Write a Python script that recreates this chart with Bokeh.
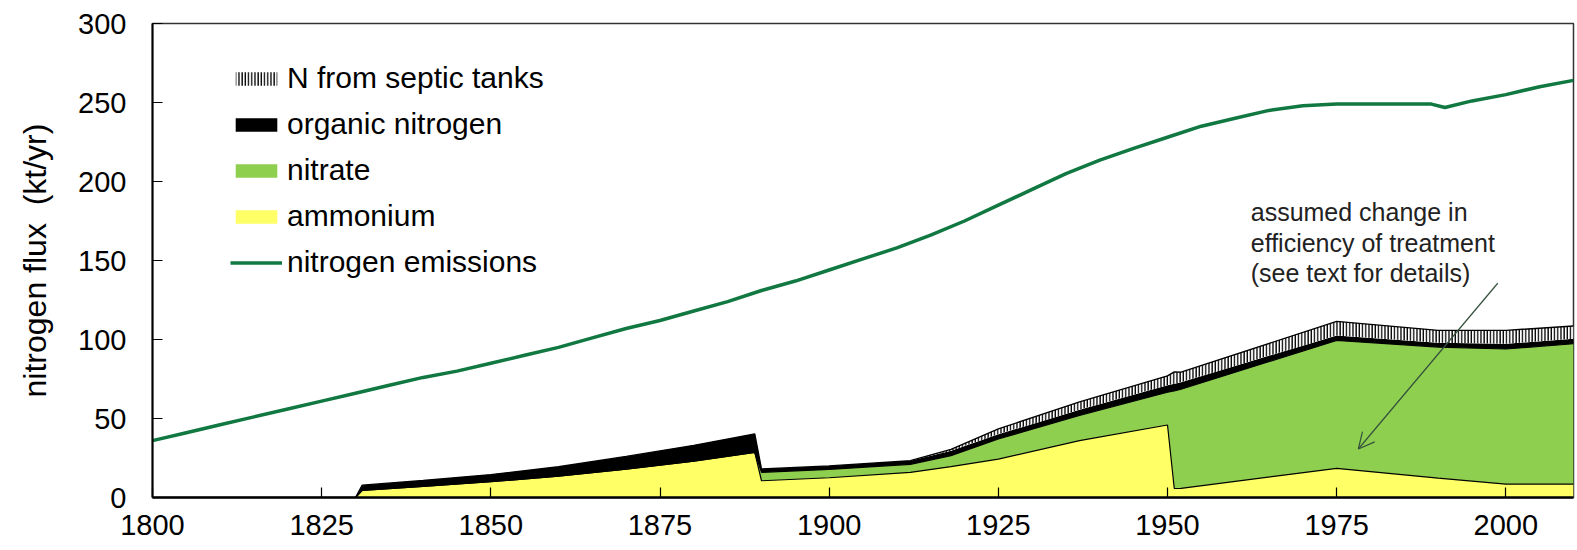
import numpy as np
from bokeh.plotting import figure
from bokeh.models import (ColumnDataSource, FixedTicker, Legend, LegendItem,
                          Arrow, OpenHead, Label, Range1d)
from bokeh.embed import file_html
from bokeh.resources import INLINE

# ---------------- data ----------------
stack_years = [1830, 1831, 1840, 1850, 1860, 1870, 1880, 1889, 1890, 1900, 1912,
               1918, 1925, 1937, 1950, 1951, 1952, 1975, 1990, 2000, 2010]
ammonium = [0, 4.5, 7, 10, 13.5, 18, 23, 28.6, 10.6, 12.5, 15.9,
            19.5, 24.3, 36, 45.9, 5.7, 5.8, 18.4, 12.3, 8.5, 8.5]
nitrate = [0, 0, 0, 0, 0, 0, 0, 0, 5.3, 5.3, 5.1,
           7, 12.7, 16, 20.7, 61.8, 62.7, 81, 82.9, 85.5, 88.8]
organic_n = [0, 3.3, 3.8, 4.5, 6, 8, 10, 11.6, 2.1, 2.2, 2.3,
             3.1, 3, 3.5, 4.4, 4.5, 4.5, 3.2, 2.8, 3.3, 3.2]
septic = [0, 0, 0, 0, 0, 0, 0, 0, 0, 0, 0,
          0.9, 3.4, 5, 6, 7.5, 6.3, 8.9, 7.8, 8.5, 8]

emis_years = [1800, 1805, 1810, 1815, 1820, 1825, 1830, 1835, 1840, 1845, 1850,
              1855, 1860, 1865, 1870, 1875, 1880, 1885, 1890, 1895, 1900, 1905,
              1910, 1915, 1920, 1925, 1930, 1935, 1940, 1945, 1950, 1955, 1960,
              1965, 1970, 1975, 1980, 1985, 1989, 1991, 1995, 2000, 2005, 2010]
emissions = [36, 41, 46, 51, 56, 61, 66, 71, 76, 80, 85,
             90, 95, 101, 107, 112, 118, 124, 131, 137, 144, 151,
             158, 166, 175, 185, 195, 205, 213.5, 221, 228, 235, 240,
             245, 248, 249, 249, 249, 249, 246.8, 251, 255, 260, 264]

x_ticks = [1800, 1825, 1850, 1875, 1900, 1925, 1950, 1975, 2000]
y_ticks = [0, 50, 100, 150, 200, 250, 300]

legend_labels = ["N from septic tanks", "organic nitrogen", "nitrate",
                 "ammonium", "nitrogen emissions"]
note_lines = ["assumed change in", "efficiency of treatment",
              "(see text for details)"]

# ---------------- styling ----------------
YELLOW = "#FFFF66"
GREEN = "#8FCF50"
EMIS = "#107840"
FONT = "Liberation Sans"

a = np.array(ammonium, dtype=float)
g = a + np.array(nitrate, dtype=float)
b = g + np.array(organic_n, dtype=float)
s = b + np.array(septic, dtype=float)
src = ColumnDataSource(dict(x=stack_years, zero=np.zeros(len(a)), a=a, g=g, b=b, s=s))

p = figure(width=1577, height=550, x_range=Range1d(1800, 2010), y_range=Range1d(0, 300),
           output_backend="svg", toolbar_location=None,
           min_border_left=152, min_border_right=4, min_border_top=23, min_border_bottom=53)
p.background_fill_color = "white"
p.border_fill_color = "white"
p.outline_line_color = "#333333"
p.outline_line_width = 1.5
p.xgrid.visible = False
p.ygrid.visible = False

r_amm = p.varea(x="x", y1="zero", y2="a", source=src, fill_color=YELLOW)
r_nit = p.varea(x="x", y1="a", y2="g", source=src, fill_color=GREEN)
r_org = p.varea(x="x", y1="g", y2="b", source=src, fill_color="black")
r_sep = p.varea(x="x", y1="b", y2="s", source=src, fill_color="white",
                hatch_pattern="vertical_line", hatch_color="black", hatch_scale=3.2, hatch_weight=1.4)
p.line(x="x", y="a", source=src, line_color="black", line_width=1.2)
p.line(x="x", y="g", source=src, line_color="black", line_width=1.2)
p.line(x="x", y="s", source=src, line_color="black", line_width=1.4)

r_em = p.line(emis_years, emissions, line_color=EMIS, line_width=3.5)

legend = Legend(items=[LegendItem(label=legend_labels[0], renderers=[r_sep]),
                       LegendItem(label=legend_labels[1], renderers=[r_org]),
                       LegendItem(label=legend_labels[2], renderers=[r_nit]),
                       LegendItem(label=legend_labels[3], renderers=[r_amm]),
                       LegendItem(label=legend_labels[4], renderers=[r_em])],
                location=(78, 218))
legend.label_text_font = FONT
legend.label_text_font_size = "30px"
legend.label_text_color = "black"
legend.glyph_width = 52
legend.glyph_height = 17
legend.label_height = 34
legend.spacing = 12
legend.padding = 0
legend.margin = 0
legend.label_standoff = 5
legend.background_fill_alpha = 0
legend.border_line_alpha = 0
p.add_layout(legend)

# annotation
ys_note = [180.8, 160.9, 141.9]
for txt, yy in zip(note_lines, ys_note):
    p.add_layout(Label(x=1962.3, y=yy, text=txt, text_font=FONT, text_font_size="25px",
                       text_color="#222222", text_baseline="middle", text_align="left"))
p.add_layout(Arrow(end=OpenHead(size=16, line_color="#34503c", line_width=1.2),
                   x_start=1998.8, y_start=135.6, x_end=1978.2, y_end=30.7,
                   line_color="#34503c", line_width=1.2))

# axes
p.xaxis.ticker = FixedTicker(ticks=x_ticks)
p.yaxis.ticker = FixedTicker(ticks=y_ticks)
for ax in (p.xaxis[0], p.yaxis[0]):
    ax.major_tick_in = 10
    ax.major_tick_out = 0
    ax.minor_tick_line_color = None
    ax.major_tick_line_color = "black"
    ax.major_tick_line_width = 1.2
    ax.axis_line_color = "black"
    ax.major_label_text_font = FONT
    ax.major_label_text_font_size = "29px"
    ax.major_label_text_color = "black"
p.xaxis.axis_line_width = 2.5
p.yaxis.axis_line_width = 2
p.xaxis.major_label_standoff = 17
p.yaxis.major_label_standoff = 26
p.yaxis.axis_label = "nitrogen flux\u00a0 (kt/yr)"
p.yaxis.axis_label_text_font = FONT
p.yaxis.axis_label_text_font_size = "32px"
p.yaxis.axis_label_text_font_style = "normal"
p.yaxis.axis_label_text_color = "black"
p.yaxis.axis_label_standoff = 22

open("out.html", "w").write(file_html(p, INLINE))
